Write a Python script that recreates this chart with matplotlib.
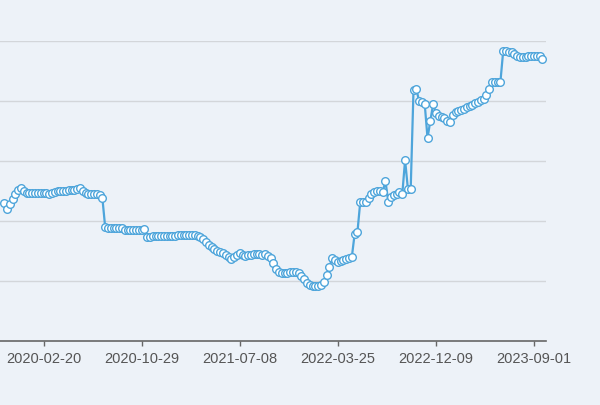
import matplotlib
matplotlib.use("Agg")
import matplotlib.pyplot as plt

# values (arbitrary units; gridlines every 60)
values = [
    138, 132, 137, 142, 147, 151, 153, 150,
    148, 148, 148, 148, 148, 148, 148, 148, 147, 148, 149,
    150, 150, 150, 150, 151, 151, 151, 152, 153, 150, 148,
    147, 147, 147, 147, 146, 143, 114,
    113, 113, 113, 113, 113, 113,
    111, 111, 111, 111, 111, 111, 111, 112, 104, 104,
    105, 105, 105, 105, 105, 105, 105, 105, 105,
    106, 106, 106, 106, 106, 106, 106, 105, 104, 102,
    99, 96, 94, 92, 90, 89, 88, 86, 84, 82,
    84, 86, 88, 86, 85, 86, 86, 87, 87, 87,
    86, 87, 85, 83, 78, 72, 69, 68, 68, 68,
    69, 69, 69, 68, 65, 62, 58, 56, 55, 55,
    55, 56, 59, 66, 74, 83, 81, 79, 80, 81,
    82, 83, 84, 107, 109, 139, 139, 139, 143, 147,
    149, 150, 150, 149, 160, 139, 144, 146, 147, 149,
    147, 181, 152, 152, 251, 252, 240, 239, 237, 203,
    220, 237, 228, 225, 224, 223, 220, 219, 226, 229,
    230, 231, 232, 234, 235, 236, 238, 239, 241, 242,
    246, 252, 259, 259, 259, 259, 290, 290, 289, 289,
    287, 285, 284, 284, 284, 285, 285, 285, 285, 285, 282,
]
tick_index = [14, 49, 84, 119, 154, 189]
tick_labels = ["2020-02-20", "2020-10-29", "2021-07-08", "2022-03-25", "2022-12-09", "2023-09-01"]
grid_levels = [60, 120, 180, 240, 300]

bg = "#edf2f8"
line_c = "#4ea5db"

fig = plt.figure(figsize=(6.0, 4.06), dpi=100, facecolor=bg)
ax = fig.add_axes([0.0, (406 - 342) / 406, 546 / 600, 300 / 406])
ax.set_facecolor(bg)

x = list(range(len(values)))
for g in grid_levels:
    ax.axhline(g, color="#d3d6da", lw=1.0, zorder=1)
ax.plot(x, values, color=line_c, lw=1.6, zorder=3,
        marker="o", markersize=5.5, markerfacecolor="white",
        markeredgecolor=line_c, markeredgewidth=1.0, clip_on=False)

ax.set_xlim(-1.52, 193.27)
ax.set_ylim(0, 300)
ax.set_yticks([])
ax.set_xticks(tick_index)
ax.set_xticklabels(tick_labels, fontsize=10.5, color="#555555", family="Liberation Sans")
ax.tick_params(axis="x", length=3.5, width=1, color="#666666", pad=4)
for s in ["left", "right", "top"]:
    ax.spines[s].set_visible(False)
ax.spines["bottom"].set_color("#666666")
ax.spines["bottom"].set_linewidth(1.2)

fig.savefig("out.png", dpi=100, facecolor=bg)
